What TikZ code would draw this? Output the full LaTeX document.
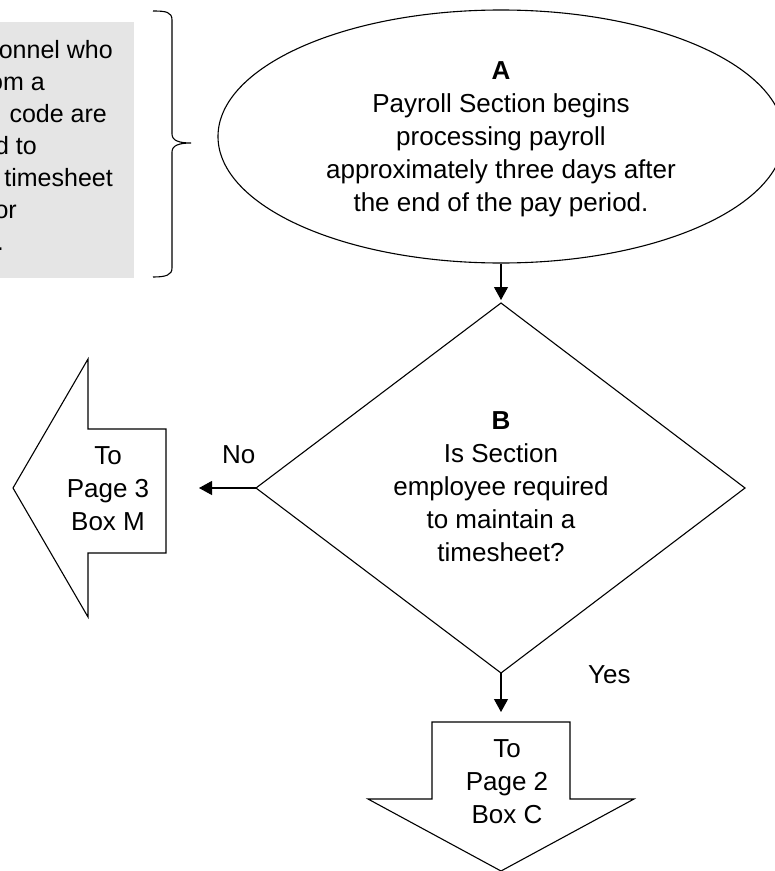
\documentclass[tikz,border=0pt]{standalone}
\usepackage{fontspec}
\setmainfont{Liberation Sans}
\usetikzlibrary{arrows.meta,shapes.geometric}
\begin{document}
\begin{tikzpicture}[x=1bp,y=-1bp,
  shapeline/.style={draw=black,line width=1.1bp},
  conn/.style={shapeline,-{Triangle[length=13bp,width=14bp]}},
  txt/.style={font=\fontsize{26bp}{33bp}\selectfont,align=center,inner sep=0pt},
  frag/.style={font=\fontsize{25bp}{32bp}\selectfont,inner sep=0pt,anchor=base east},
  lbl/.style={font=\fontsize{26bp}{33bp}\selectfont,inner sep=0pt,anchor=base west}]
\useasboundingbox (0,0) rectangle (775,871);
% grey note box (cut at the left edge)
\begin{scope}
\clip (0,22) rectangle (134,278);
\fill[gray!20] (0,22) rectangle (134,278);
\node[frag] (n1) at (113,58) {onnel who};
\node[frag] (n2) at (45,90) {om a};
\node[frag] (n3) at (107,122) {code are};
\node[frag] (n4) at (37,154) {d to};
\node[frag] (n5) at (113,186) {timesheet};
\node[frag] (n6) at (17,218) {or};
\node[frag] (n7) at (4,250) {.};
\end{scope}
% brace
\draw[shapeline] (153,11) .. controls (166,11) and (172,12) .. (172,20) -- (172,134)
  .. controls (172,141) and (180,143) .. (191,143)
  .. controls (180,143) and (172,145) .. (172,152) -- (172,268)
  .. controls (172,275) and (166,277) .. (153,277);
% A ellipse
\node[ellipse,shapeline,minimum width=566bp,minimum height=253bp,inner sep=0pt] (A) at (501,136.5) {};
\node[txt] (Atext) at (501,139.5) {\textbf{A}\\Payroll Section begins\\processing payroll\\approximately three days after\\the end of the pay period.};
% B diamond
\coordinate (Btop) at (501,303);
\coordinate (Bleft) at (256,488);
\coordinate (Bbot) at (501,673);
\coordinate (Bright) at (745,488);
\draw[shapeline] (Btop) -- (Bright) -- (Bbot) -- (Bleft) -- cycle;
\node[txt] (Btext) at (501,487) {\textbf{B}\\Is Section\\employee required\\to maintain a\\timesheet?};
% left page arrow
\draw[shapeline] (166,429) -- (88,429) -- (88,359) -- (13,488) -- (88,617) -- (88,553) -- (166,553) -- cycle;
\node[txt] (M) at (108,488.5) {To\\Page 3\\Box M};
% down page arrow
\draw[shapeline] (432,722) -- (570,722) -- (570,799) -- (634,799) -- (501,871) -- (368,799) -- (432,799) -- cycle;
\node[txt] (C) at (507,782) {To\\Page 2\\Box C};
% connectors
\coordinate (noEnd) at (199,488);
\coordinate (yesEnd) at (501,712);
\coordinate (aEnd) at (501,300);
\draw[conn] (A.south) -- (aEnd);
\draw[conn] (Bleft) -- (noEnd);
\draw[conn] (Bbot) -- (yesEnd);
\node[lbl] (no) at (222,463) {No};
\node[lbl] (yes) at (588,683) {Yes};
\end{tikzpicture}
\end{document}
